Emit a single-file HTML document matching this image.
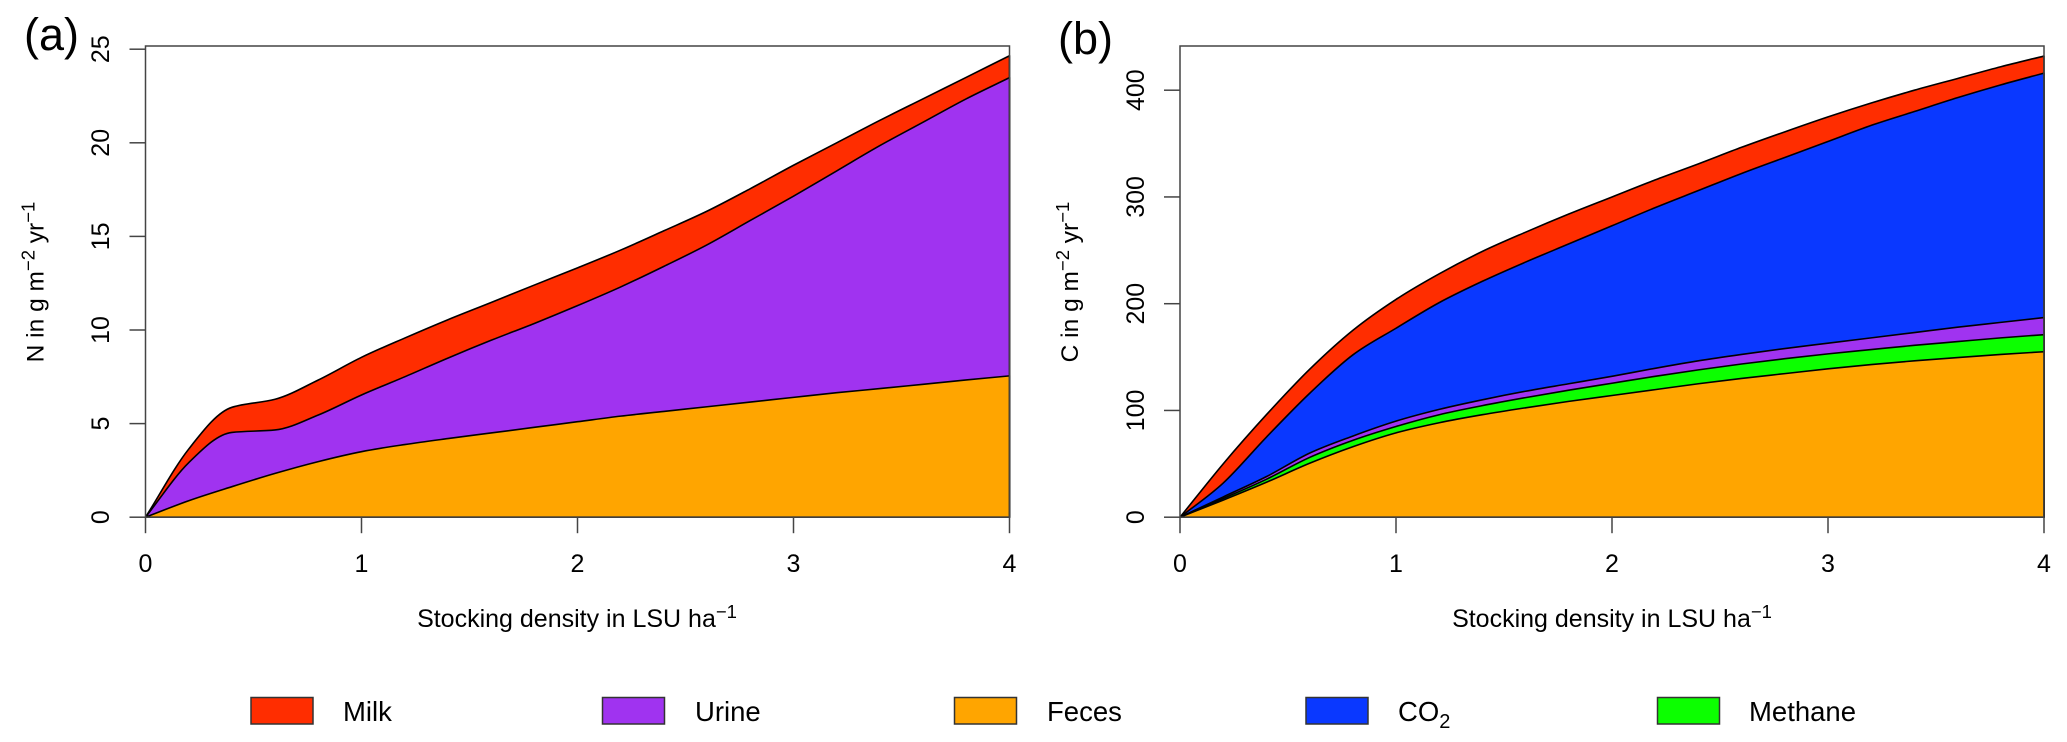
<!DOCTYPE html>
<html lang="en">
<head>
<meta charset="utf-8">
<title>Stocking density charts</title>
<style>
html,body{margin:0;padding:0;background:#fff;}
svg{display:block;font-family:"Liberation Sans",Arial,sans-serif;fill:#000;}
</style>
</head>
<body>
<svg id="figure" width="2067" height="742" viewBox="0 0 2067 742" xmlns="http://www.w3.org/2000/svg">
  <rect x="0" y="0" width="2067" height="742" fill="#fff"/>
  <text x="24" y="50" font-size="45">(a)</text>
  <text x="1058" y="54" font-size="45">(b)</text>

  <g id="panel-a"></g>
  <g id="panel-b"></g>

  <text transform="translate(43.5,282) rotate(-90)" text-anchor="middle" font-size="24.5">N in g m<tspan font-size="18.5" dy="-9">−2</tspan><tspan dy="9"> yr</tspan><tspan font-size="18.5" dy="-9">−1</tspan></text>
  <text transform="translate(1078,282) rotate(-90)" text-anchor="middle" font-size="24.5">C in g m<tspan font-size="18.5" dy="-9">−2</tspan><tspan dy="9"> yr</tspan><tspan font-size="18.5" dy="-9">−1</tspan></text>
  <text x="577" y="627" text-anchor="middle" font-size="25">Stocking density in LSU ha<tspan font-size="18.5" dy="-9">−1</tspan></text>
  <text x="1612" y="627" text-anchor="middle" font-size="25">Stocking density in LSU ha<tspan font-size="18.5" dy="-9">−1</tspan></text>

  <g>
    <g>
      <rect x="251" y="697.5" width="62" height="26.5" fill="#ff2d00" stroke="#333" stroke-width="1.5"/>
      <text x="343" y="721" font-size="27.5">Milk</text>
    </g>
    <g>
      <rect x="602.5" y="697.5" width="62" height="26.5" fill="#a033f0" stroke="#333" stroke-width="1.5"/>
      <text x="695" y="721" font-size="27.5">Urine</text>
    </g>
    <g>
      <rect x="954.5" y="697.5" width="62" height="26.5" fill="#ffa500" stroke="#333" stroke-width="1.5"/>
      <text x="1047" y="721" font-size="27.5">Feces</text>
    </g>
    <g>
      <rect x="1306" y="697.5" width="62" height="26.5" fill="#0a38ff" stroke="#333" stroke-width="1.5"/>
      <text x="1398" y="721" font-size="27.5">CO<tspan font-size="20" dy="7">2</tspan></text>
    </g>
    <g>
      <rect x="1657.5" y="697.5" width="62" height="26.5" fill="#0cff00" stroke="#333" stroke-width="1.5"/>
      <text x="1749" y="721" font-size="27.5">Methane</text>
    </g>
  </g>
</svg>
<script>
// Shared x categories (stocking density, LSU/ha)
const stockingDensity = [0,0.2,0.4,0.6,0.8,1,1.2,1.4,1.6,1.8,2,2.2,2.4,2.6,2.8,3,3.2,3.4,3.6,3.8,4];
const xTicks = [0,1,2,3,4];

// Panel (a): stacked upper boundaries, g N per m2 per yr
const fecesN = [0,0.88,1.63,2.34,2.97,3.5,3.88,4.2,4.5,4.8,5.1,5.4,5.65,5.9,6.15,6.4,6.65,6.87,7.1,7.33,7.55];
const urineN = [0,2.91,4.53,4.66,5.46,6.53,7.5,8.5,9.45,10.35,11.3,12.3,13.4,14.55,15.85,17.15,18.5,19.85,21.1,22.35,23.48];
const milkN = [0,3.64,5.87,6.3,7.33,8.54,9.57,10.55,11.47,12.4,13.32,14.27,15.3,16.35,17.55,18.8,20,21.2,22.35,23.5,24.65];
const yTicksN = [0,5,10,15,20,25];

// Panel (b): stacked upper boundaries, g C per m2 per yr
const fecesC = [0,16,32.7,50.5,66,79,88.5,96,102.5,108.5,114,119.5,125,130,134.5,139,143,146.5,149.5,152.5,155];
const methaneC = [0,17.5,35.5,56,72,85,96,104.5,112,119,125.5,132,138,143.5,148.5,153,157,161,164.5,168,171];
const urineC = [0,19,38,60,76,90,101,110,118,125,132,139.5,146.5,152.5,158,163,168,173,178,182.5,187];
const co2C = [0,32,75,116,152,177,201,221,239,256,273,290,306,322,337,352,367,380,393,405,416];
const milkC = [0,50,96,138.5,175,204,228,249,267,284,300,316,331,346.5,361,375,388,400,411,422,432];
const yTicksC = [0,100,200,300,400];

const SVG_NS = 'http://www.w3.org/2000/svg';

function axisX(left, right, maxX) {
  return function (v) { return left + (v / maxX) * (right - left); };
}
function axisY(base, pxPerUnit) {
  return function (v) { return base - v * pxPerUnit; };
}

// Cubic path through the mapped data points: average tangents where the
// slope changes gently, harmonic tangents at sharp bends such as the 0.4 kink.
function smoothPath(xs, ys) {
  const n = xs.length;
  const slopes = [];
  for (let i = 0; i < n - 1; i++) {
    slopes.push((ys[i + 1] - ys[i]) / (xs[i + 1] - xs[i]));
  }
  const tangents = [slopes[0]];
  for (let i = 1; i < n - 1; i++) {
    const a = slopes[i - 1];
    const b = slopes[i];
    if (a * b <= 0) {
      tangents.push(0);
    } else if (Math.min(Math.abs(a), Math.abs(b)) / Math.max(Math.abs(a), Math.abs(b)) > 0.5) {
      tangents.push((a + b) / 2);
    } else {
      tangents.push(2 * a * b / (a + b));
    }
  }
  tangents.push(slopes[n - 2]);
  let d = 'M' + xs[0].toFixed(2) + ' ' + ys[0].toFixed(2);
  for (let i = 0; i < n - 1; i++) {
    const h = (xs[i + 1] - xs[i]) / 3;
    d += ' C' + (xs[i] + h).toFixed(2) + ' ' + (ys[i] + tangents[i] * h).toFixed(2) +
         ' ' + (xs[i + 1] - h).toFixed(2) + ' ' + (ys[i + 1] - tangents[i + 1] * h).toFixed(2) +
         ' ' + xs[i + 1].toFixed(2) + ' ' + ys[i + 1].toFixed(2);
  }
  return d;
}

function drawArea(parent, name, values, color, xScale, yScale) {
  const p = document.createElementNS(SVG_NS, 'path');
  
  
  const xs = stockingDensity.map(xScale);
  const ys = values.map(yScale);
  const d = smoothPath(xs, ys) + ' L' + xs[xs.length - 1].toFixed(2) + ' ' + yScale(0).toFixed(2) +
            ' L' + xs[0].toFixed(2) + ' ' + yScale(0).toFixed(2) + ' Z';
  p.setAttribute('d', d);
  p.setAttribute('fill', color);
  p.setAttribute('stroke', '#000');
  p.setAttribute('stroke-width', '1.6');
  p.setAttribute('stroke-linejoin', 'round');
  parent.appendChild(p);
}

function drawTickLine(parent, name, x1, y1, x2, y2) {
  const l = document.createElementNS(SVG_NS, 'line');
  
  
  l.setAttribute('x1', x1);
  l.setAttribute('y1', y1);
  l.setAttribute('x2', x2);
  l.setAttribute('y2', y2);
  l.setAttribute('stroke', '#444');
  l.setAttribute('stroke-width', '1.5');
  parent.appendChild(l);
}

function drawAxes(parent, xScale, yScale, yTicks, labelX, left, right, top, base) {
  const frame = document.createElementNS(SVG_NS, 'rect');
  
  
  frame.setAttribute('x', left);
  frame.setAttribute('y', top);
  frame.setAttribute('width', right - left);
  frame.setAttribute('height', base - top);
  frame.setAttribute('fill', 'none');
  frame.setAttribute('stroke', '#444');
  frame.setAttribute('stroke-width', '1.5');
  parent.appendChild(frame);

  xTicks.forEach(function (v) {
    const x = xScale(v);
    drawTickLine(parent, 'x-tick', x, base, x, base + 16);
    const t = document.createElementNS(SVG_NS, 'text');
    
    
    t.setAttribute('x', x);
    t.setAttribute('y', 572);
    t.setAttribute('text-anchor', 'middle');
    t.setAttribute('font-size', '25');
    t.textContent = String(v);
    parent.appendChild(t);
  });

  yTicks.forEach(function (v) {
    const y = yScale(v);
    drawTickLine(parent, 'y-tick', left - 16, y, left, y);
    const t = document.createElementNS(SVG_NS, 'text');
    
    
    t.setAttribute('transform', 'translate(' + labelX + ',' + y + ') rotate(-90)');
    t.setAttribute('text-anchor', 'middle');
    t.setAttribute('font-size', '25');
    t.textContent = String(v);
    parent.appendChild(t);
  });
}

// Panel (a)
const panelA = document.getElementById('panel-a');
const xA = axisX(145.5, 1009.5, 4);
const yA = axisY(517.2, 18.72);
drawArea(panelA, 'area-milk-n', milkN, '#ff2d00', xA, yA);
drawArea(panelA, 'area-urine-n', urineN, '#a033f0', xA, yA);
drawArea(panelA, 'area-feces-n', fecesN, '#ffa500', xA, yA);
drawAxes(panelA, xA, yA, yTicksN, 109, 145.5, 1009.5, 46, 517.2);

// Panel (b)
const panelB = document.getElementById('panel-b');
const xB = axisX(1180, 2044, 4);
const yB = axisY(517.2, 1.0675);
drawArea(panelB, 'area-milk-c', milkC, '#ff2d00', xB, yB);
drawArea(panelB, 'area-co2-c', co2C, '#0a38ff', xB, yB);
drawArea(panelB, 'area-urine-c', urineC, '#a033f0', xB, yB);
drawArea(panelB, 'area-methane-c', methaneC, '#0cff00', xB, yB);
drawArea(panelB, 'area-feces-c', fecesC, '#ffa500', xB, yB);
drawAxes(panelB, xB, yB, yTicksC, 1144, 1180, 2044, 46, 517.2);
</script>
</body>
</html>
